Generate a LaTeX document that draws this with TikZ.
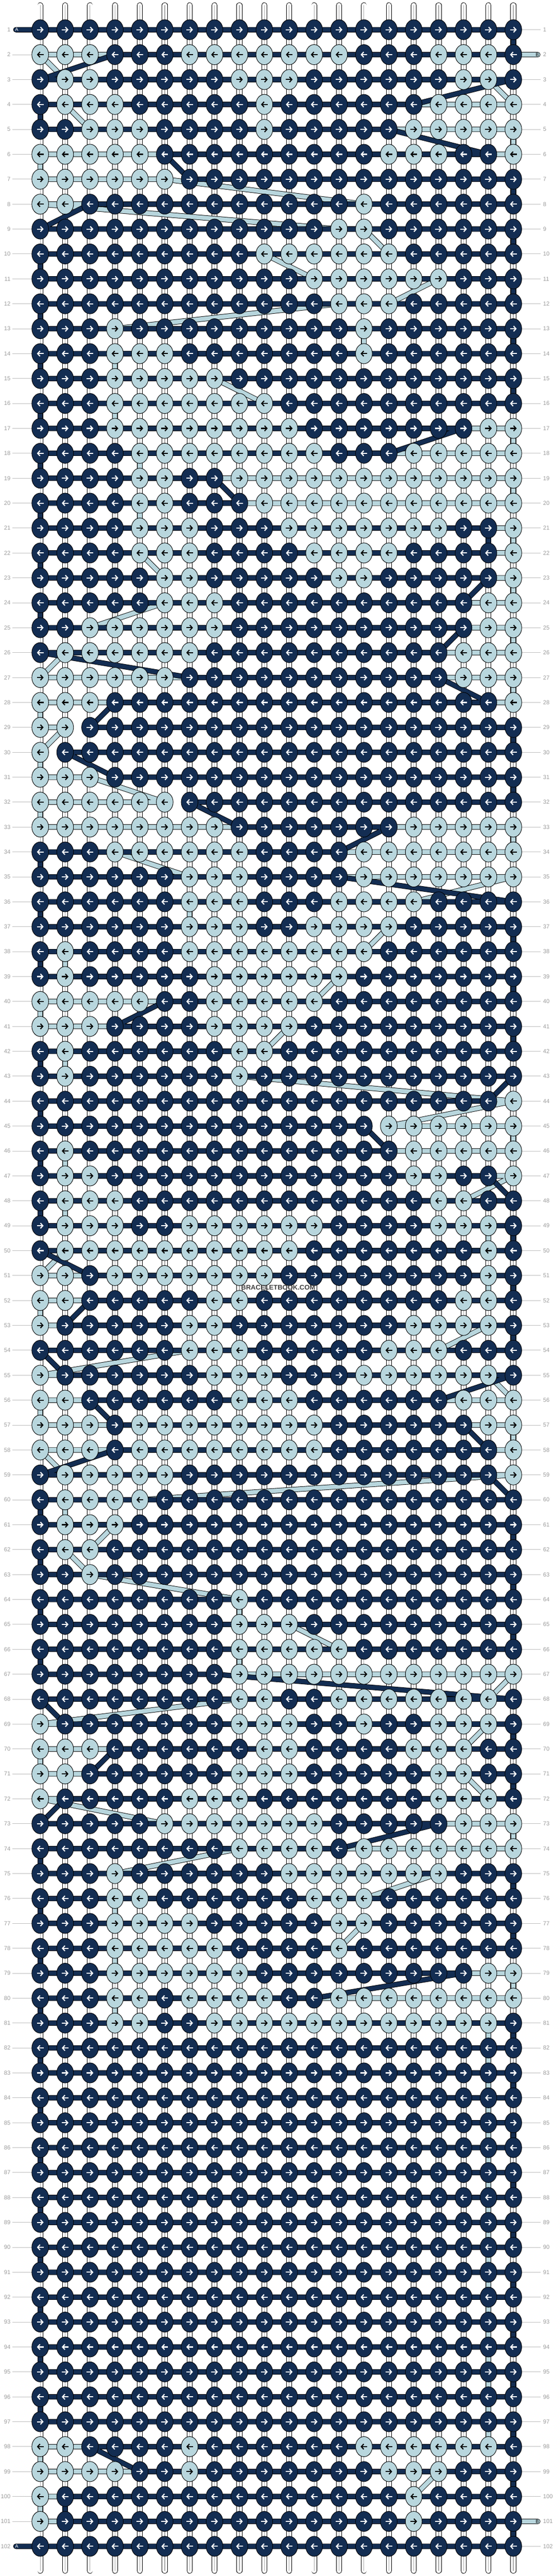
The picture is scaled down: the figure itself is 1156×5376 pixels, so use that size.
\documentclass[tikz,border=0pt]{standalone}
\usepackage{fontspec}
\setmainfont{Liberation Sans}
\usetikzlibrary{arrows.meta}
\definecolor{knotDark}{HTML}{132D52}
\definecolor{knotLight}{HTML}{B8D6DD}
\definecolor{rowGray}{HTML}{9A9A9A}
\definecolor{tickGray}{HTML}{BDBDBD}
\definecolor{coreGray}{HTML}{A8A8A8}
\pgfdeclarelayer{strings}
\pgfdeclarelayer{threads}
\pgfsetlayers{strings,threads,main}
\newcount\knotidx
\makeatletter
\def\knotof#1#2{\knotidx=#1\relax\expandafter\knotof@#2DDDD\@nil}
\def\knotof@#1#2\@nil{%
  \ifnum\knotidx=1 \gdef\knotcol{#1}%
  \else\advance\knotidx\m@ne\knotof@#2\@nil\fi}
\makeatother
\newsavebox\knotDR
\newsavebox\knotDL
\newsavebox\knotLR
\newsavebox\knotLL
\newcommand\knotglyph[4]{%
  \begin{pgfpicture}%
    \pgfsetlinewidth{1pt}%
    \pgfsetfillcolor{#1}%
    \pgfsetstrokecolor{black}%
    \pgfpathellipse{\pgfpointorigin}{\pgfqpoint{17.5pt}{0pt}}{\pgfqpoint{0pt}{21pt}}%
    \pgfusepath{fill,stroke}%
    \pgfsetlinewidth{2.3pt}%
    \pgfsetstrokecolor{#2}%
    \pgfsetarrowsend{Straight Barb[length=5pt,width=11pt]}%
    \pgfpathmoveto{\pgfqpoint{#3pt}{0pt}}%
    \pgfpathlineto{\pgfqpoint{#4pt}{0pt}}%
    \pgfusepath{stroke}%
  \end{pgfpicture}}
\begin{document}
\sbox\knotDR{\knotglyph{knotDark}{white}{-7}{7}}%
\sbox\knotDL{\knotglyph{knotDark}{white}{7}{-7}}%
\sbox\knotLR{\knotglyph{knotLight}{black}{-7}{7}}%
\sbox\knotLL{\knotglyph{knotLight}{black}{7}{-7}}%
\begin{tikzpicture}[
  x=1pt, y=-1pt,
  knot/.style={inner sep=0pt, outer sep=0pt},
  thread outline/.style={draw=black, line width=11pt, line cap=round, line join=round},
  thread dark/.style={draw=knotDark, line width=9pt, line cap=round, line join=round},
  thread light/.style={draw=knotLight, line width=9pt, line cap=round, line join=round},
  base outline/.style={draw=black, line width=12pt, line cap=round},
  base fill/.style={draw=white, line width=10pt, line cap=round},
  base core/.style={draw=coreGray, line width=1.2pt},
  row label/.style={text=rowGray, font=\fontsize{12}{12}\selectfont, inner sep=0pt},
  row tick/.style={draw=tickGray, line width=1pt},
  stub label/.style={font=\fontsize{10}{10}\selectfont, inner sep=0pt},
  watermark/.style={text=black!75, font=\bfseries\fontsize{14}{14}\selectfont, inner sep=0pt}
]
\useasboundingbox (0,0) rectangle (1156,5376);
\coordinate (stubA-in) at (33,62);
\coordinate (stubB-in) at (1123,114);
\coordinate (stubB-out) at (1123,5262);
\coordinate (stubA-out) at (33,5314);
\xdef\pathA{(stubA-in)}
\xdef\pathB{(stubB-in)}
\foreach \row/\pat in {
  1/DDDDDDDDDDDDDDDDDDDD,
  2/LLLDDDLLLLLLLDDDLLLD,
  3/DLLDDDDDLLLDDDDDDLLD,
  4/DLLLDDDDDLDDDDDDLLLL,
  5/DDLLLDDDDLDDDDDLLLLL,
  6/LLLLLDDDDDDDDDLLLDDL,
  7/LLLLLLDDDDDDDDDDDDDD,
  8/LLDDDDDDDDDDDLDDDDDD,
  9/DDDDDDDDDDDDLLDDDDDD,
  10/DDDDDDDDDLLLLLLDDDDD,
  11/DDDDDDDDDDDLLLLLLDDD,
  12/DDDDDDDDDDDDLLLDDDDD,
  13/DDDLDDDDDDDDDLDDDDDD,
  14/DDDLLLDDDDDDDLDDDDDD,
  15/DDDLLLLLDDDDDDDDDDDD,
  16/DDDLLLLLLLDDDDDDDDDD,
  17/DDDLLLLLLLLDDDDDDDLL,
  18/DDDDLLLLLLLLDDDLLLLL,
  19/DDDDLLDDLLLLLLLLLLLL,
  20/DDDDLLDDDLLLLLLLLLLL,
  21/DDDDLLLDDDLLLLLLLDDL,
  22/DDDDLLLDDDDLLLLDDDDL,
  23/DDDDDLLDDDDDLLDDDDDL,
  24/DDDDDLLLDDDDDDDDDDLL,
  25/DDLLLLLLDDDDDDDDDDLL,
  26/DLLLLLLDDDDDDDDDDLLL,
  27/LLLLLLDDDDDDDDDDDLLL,
  28/LLLDDDDDDDDDDDDDDDDL,
  29/LLDDDDDDDDDDDDDDDDDD,
  30/LDDDDDDDDDDDDDDDDDDD,
  31/LLLDDDDDDDDDDDDDDDDD,
  32/LLLLLLDDDDDDDDDDDDDD,
  33/LLLLLLLLDDDDDDDLLLLL,
  34/DDDLLLLLLDDDDLLLLLLL,
  35/DDDDDDLLLDDDDLLLLLLL,
  36/DDDDDDLLLDDDLLLLDDDD,
  37/DDDDDDLLLDDLLLLDDDDD,
  38/DLDDDDLLLLLLLLDDDDDD,
  39/DLDDDDDLLLLLLDDDDDDD,
  40/LLLLLDDLLLLLDDDDDDDD,
  41/LLLDDDDLLLLDDDDDDDDD,
  42/DLDDDDDDLLDDDDDDDDDD,
  43/DLDDDDDDLDDDDDDDDDDD,
  44/DDDDDDDDDDDDDDDDDDDL,
  45/DDDDDDDDDDDDDDLLLLLL,
  46/DLDDDDDDDDDDDDDLLLLL,
  47/DLLDDDDDDDDDDDDLLDDL,
  48/DLLLDDDDDDDDDDDDLLDD,
  49/DLLLDDLLLLLLDDDDLLLD,
  50/DLLLLLLLLLLDDDDDDDLD,
  51/LLDLLLLLLLDDDDDDDDLD,
  52/LLDDDDDLLDDDDDDDDLLD,
  53/LDDDDDLLDDDDDDDLLLLD,
  54/DDDDDDLLLDDDDDLLLDDD,
  55/LDDDDDDLLLDDDLLLLLLD,
  56/LLDDDDDDLLLDDDDDDLLL,
  57/LLLDLLLLLLLLDDDDDDLL,
  58/LLLDLLLLLLLLDDDDDDDL,
  59/DLLLLLDDDDDDDDDDDDDL,
  60/DLLLLDDDDDDDDDDDDDDD,
  61/DLLLDDDDDDDDDDDDDDDD,
  62/DLLDDDDDDDDDDDDDDDDD,
  63/DDLDDDDDDDDDDDDDDDDD,
  64/DDDDDDDDLDDDDDDDDDDD,
  65/DDDDDDDDLLLDDDDDDDDD,
  66/DDDDDDDDLLLLLDDDDDDD,
  67/DDDDDDDDLLLLLLLLLLLL,
  68/DDDDDDDDLLDDLLLLLLLD,
  69/LDDDDDDDLLLDDLDDLLLD,
  70/LLLDDDDDDLLDDDDLLLDD,
  71/LLDDDDDDLLLDDDDDLLDD,
  72/LDDDDDLLLDDDDDDDLLLD,
  73/DDDDDLLLLLLLDDDDDLLL,
  74/DDDDDDDDLLLLDLLLLLLL,
  75/DDDLDDDDDDLLLLLLLDDD,
  76/DDDLLDDDDDDLLLDDDDDD,
  77/DDDLLLLDDDDDLLDDDDDD,
  78/DDDLLLLLDDDDLDDDDDDD,
  79/DDDLLLLLLDDDDDDDDDLL,
  80/DDDLLDLLLLDDLLLLLLLL,
  81/DDDLLDDLLLLLLLLLLLLD,
  82/DDDDDDDDDDDDDDDDDDDD,
  83/DDDDDDDDDDDDDDDDDDDD,
  84/DDDDDDDDDDDDDDDDDDDD,
  85/DDDDDDDDDDDDDDDDDDDD,
  86/DDDDDDDDDDDDDDDDDDDD,
  87/DDDDDDDDDDDDDDDDDDDD,
  88/DDDDDDDDDDDDDDDDDDDD,
  89/DDDDDDDDDDDDDDDDDDDD,
  90/DDDDDDDDDDDDDDDDDDDD,
  91/DDDDDDDDDDDDDDDDDDDD,
  92/DDDDDDDDDDDDDDDDDDDD,
  93/DDDDDDDDDDDDDDDDDDDD,
  94/DDDDDDDDDDDDDDDDDDDD,
  95/DDDDDDDDDDDDDDDDDDDD,
  96/DDDDDDDDDDDDDDDDDDDD,
  97/DDDDDDDDDDDDDDDDDDDD,
  98/LLDDDDLDDDDDDLLLLLLD,
  99/LLLLDDLDDDDDDDLLLDDD,
  100/LDDDDDDDDDDDDDDLDDDD,
  101/LDDDDDDDDDDDDDDLDDDD,
  102/DDDDDDDDDDDDDDDDDDDD}
{
  \ifodd\row \def\order{1,...,20}\else \def\order{20,19,...,1}\fi
  \foreach \col in \order
  {
    \knotof{\col}{\pat}
    \pgfmathsetmacro\kx{32+52*\col}
    \pgfmathsetmacro\ky{10+52*\row}
    \if D\knotcol
      \ifodd\row \def\kb{\knotDR}\else \def\kb{\knotDL}\fi
      \xdef\pathA{\pathA -- (k-\row-\col.center)}
    \else
      \ifodd\row \def\kb{\knotLR}\else \def\kb{\knotLL}\fi
      \xdef\pathB{\pathB -- (k-\row-\col.center)}
    \fi
    \node[knot] (k-\row-\col) at (\kx,\ky) {\usebox{\kb}};
  }
}
\xdef\pathA{\pathA -- (stubA-out)}
\xdef\pathB{\pathB -- (stubB-out)}
\begin{pgfonlayer}{threads}
  \edef\threadcmd{%
    \noexpand\draw[thread outline] \pathB;
    \noexpand\draw[thread light] \pathB;
    \noexpand\draw[thread outline] \pathA;
    \noexpand\draw[thread dark] \pathA;}
  \threadcmd
\end{pgfonlayer}
\begin{pgfonlayer}{strings}
  \foreach \col in {1,...,20}
  {
    \pgfmathsetmacro\kx{32+52*\col}
    \coordinate (top-\col) at (\kx,11);
    \coordinate (bot-\col) at (\kx,5365);
    \draw[base outline] (top-\col) -- (bot-\col);
    \draw[base fill] (top-\col) -- (bot-\col);
    \draw[base core] (top-\col) -- (bot-\col);
  }
\end{pgfonlayer}
\foreach \row in {1,...,102}
{
  \pgfmathsetmacro\ky{10+52*\row}
  \node[row label, anchor=east] (lab-l-\row) at (22,\ky) {\row};
  \node[row label, anchor=west] (lab-r-\row) at (1134,\ky) {\row};
  \ifnum\row>1 \ifnum\row<102
    \draw[row tick] ([xshift=4pt]lab-l-\row.east) -- (k-\row-1.west);
  \fi\fi
  \ifnum\row=2 \else \ifnum\row=101 \else
    \draw[row tick] (k-\row-20.east) -- ([xshift=-5pt]lab-r-\row.west);
  \fi\fi
}
\node[stub label, text=white] (tag-A-in) at (35,62) {A};
\node[stub label, text=white] (tag-A-out) at (35,5314) {A};
\node[stub label, text=black] (tag-B-in) at (1122,114) {B};
\node[stub label, text=black] (tag-B-out) at (1122,5262) {B};
\node[watermark] (mark) at (581,2687) {BRACELETBOOK.COM};
\end{tikzpicture}
\end{document}
